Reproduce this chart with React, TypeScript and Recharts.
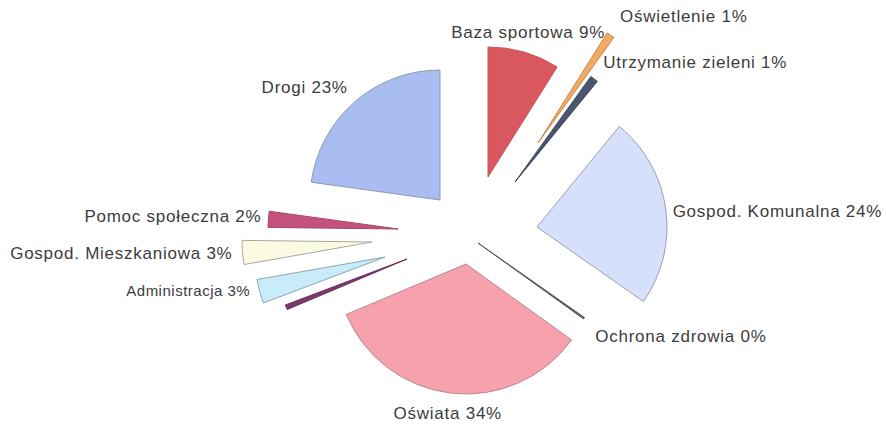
import { Cell, Pie, PieChart } from "recharts";

// budget shares, clockwise from 12 o'clock
const categories = [
  "Baza sportowa",
  "Oświetlenie",
  "Utrzymanie zieleni",
  "Gospod. Komunalna",
  "Ochrona zdrowia",
  "Oświata",
  "",
  "Administracja",
  "Gospod. Mieszkaniowa",
  "Pomoc społeczna",
  "Drogi",
];
const shares = [9, 1, 1, 24, 0.2, 34, 0.6, 3, 3, 2, 23];
const percentLabels = ["9%", "1%", "1%", "24%", "0%", "34%", "", "3%", "3%", "2%", "23%"];

const data = categories.map((name, i) => ({ name, value: shares[i] }));

// look
const fills = [
  "#d9575f",
  "#f2a962",
  "#4b566f",
  "#d6e0fa",
  "#6a6a6a",
  "#f7a1ad",
  "#7b3a6c",
  "#c8ecfa",
  "#fbfbe4",
  "#c4527d",
  "#a9bdf0",
];
const strokes = [
  "#c9555c",
  "#c98a4a",
  "#3f4860",
  "#9aa0b4",
  "#555555",
  "#b48a92",
  "#6a2f5c",
  "#8aa6b4",
  "#a8a8a0",
  "#a8456a",
  "#8f99b4",
];
// exploded slice shift from the pie centre
const sliceShift = [
  [29, -42],
  [79, -76],
  [56, -37],
  [78, 8],
  [19, 24],
  [7, 45],
  [-52, 40],
  [-74, 38],
  [-87, 23],
  [-61, 10],
  [-19, -19],
];
const labelNudge = [
  [0, -5],
  [1, -6],
  [0, -4],
  [-8, 4],
  [-1, 10],
  [-2, 5],
  [0, 0],
  [5, -5],
  [5, 0],
  [8, -2],
  [3, -3],
];

const renderLabel = (props: any) => {
  const { index, cx, cy, midAngle, outerRadius } = props;
  if (!categories[index]) return null;
  const rad = (midAngle * Math.PI) / 180;
  const r = outerRadius + 15;
  const x = cx + sliceShift[index][0] + r * Math.cos(rad) + labelNudge[index][0];
  const y = cy + sliceShift[index][1] - r * Math.sin(rad) + labelNudge[index][1];
  const s = Math.cos(rad);
  const anchor = Math.abs(s) < 0.35 ? "middle" : s > 0 ? "start" : "end";
  const small = index === 7;
  return (
    <text
      x={x}
      y={y}
      textAnchor={anchor}
      dominantBaseline="central"
      fill="#3c3c3c"
      fontSize={small ? 15 : 17}
      letterSpacing={small ? 0.5 : 0.75}
      fontFamily="'Liberation Sans', Arial, sans-serif"
    >
      {`${categories[index]} ${percentLabels[index]}`}
    </text>
  );
};

export default function App() {
  return (
    <div
      style={{
        position: "absolute",
        left: 0,
        top: 0,
        width: 887,
        height: 429,
        background: "#fff",
      }}
    >
      <PieChart width={887} height={429} margin={{ top: 0, right: 0, bottom: 0, left: 0 }}>
        <Pie
          data={data}
          dataKey="value"
          nameKey="name"
          cx={459}
          cy={219}
          outerRadius={130}
          startAngle={90}
          endAngle={-270}
          label={renderLabel}
          labelLine={false}
          isAnimationActive={false}
        >
          {data.map((d, i) => (
            <Cell
              key={d.name + i}
              fill={fills[i]}
              stroke={strokes[i]}
              strokeWidth={1}
              transform={`translate(${sliceShift[i][0]},${sliceShift[i][1]})`}
            />
          ))}
        </Pie>
      </PieChart>
    </div>
  );
}
